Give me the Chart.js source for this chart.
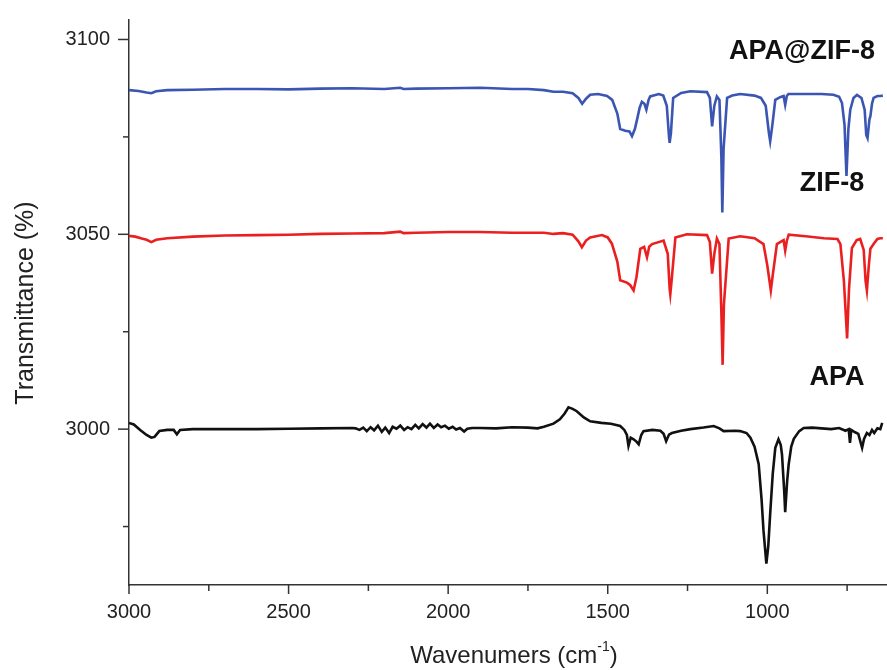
<!DOCTYPE html>
<html>
<head>
<meta charset="utf-8">
<script src="https://cdn.jsdelivr.net/npm/chart.js@4.4.1/dist/chart.umd.min.js"></script>
<style>
  html, body { margin: 0; padding: 0; background: #fff; }
  #wrap { width: 887px; height: 670px; position: relative; }
</style>
</head>
<body>
<div id="wrap"><canvas id="ftirChart"></canvas></div>
<script>
// Espectros FTIR (numero de onda en cm-1, transmitancia desplazada)
const wnAPAZIF = [3000, 2970, 2945, 2930, 2915, 2880, 2800, 2700, 2600, 2500, 2400, 2300, 2200, 2150, 2140, 2100, 2000, 1900, 1800, 1750, 1700, 1670, 1640, 1610, 1592, 1580, 1568, 1555, 1530, 1502, 1486, 1470, 1461, 1445, 1432, 1424, 1415, 1408, 1400, 1393, 1385, 1379, 1372, 1367, 1340, 1326, 1315, 1308, 1306, 1302, 1295, 1270, 1241, 1189, 1180, 1173, 1166, 1158, 1150, 1144, 1141, 1137, 1126, 1110, 1085, 1040, 1020, 1005, 995, 991, 985, 975, 960, 949, 944, 939, 934, 900, 876, 830, 793, 775, 766, 758, 752, 746, 740, 730, 719, 705, 695, 690, 686, 680, 677, 672, 667, 655, 646, 638];
const tAPAZIF = [3087.0, 3086.8, 3086.4, 3086.2, 3086.7, 3087.0, 3087.1, 3087.3, 3087.3, 3087.2, 3087.4, 3087.5, 3087.3, 3087.6, 3087.3, 3087.4, 3087.5, 3087.6, 3087.3, 3087.3, 3087.0, 3086.6, 3086.6, 3086.2, 3085.0, 3083.5, 3084.8, 3085.8, 3086.0, 3085.5, 3084.5, 3081.0, 3077.0, 3076.6, 3076.4, 3075.2, 3077.0, 3079.5, 3082.5, 3084.0, 3083.5, 3082.0, 3084.5, 3085.4, 3086.0, 3085.6, 3083.0, 3075.0, 3073.5, 3076.0, 3085.0, 3086.3, 3086.7, 3086.5, 3085.0, 3077.7, 3083.0, 3085.4, 3084.5, 3070.0, 3055.6, 3072.0, 3085.0, 3085.6, 3086.0, 3085.6, 3085.0, 3083.0, 3076.0, 3073.9, 3077.5, 3084.5, 3085.2, 3085.5, 3083.2, 3085.5, 3086.0, 3086.0, 3086.0, 3086.0, 3085.8, 3085.3, 3083.7, 3078.0, 3065.0, 3077.0, 3082.0, 3085.0, 3085.8, 3085.0, 3082.0, 3075.5, 3074.7, 3079.5, 3080.3, 3083.5, 3085.0, 3085.5, 3085.5, 3085.6];

const wnZIF = [3000, 2980, 2960, 2945, 2930, 2915, 2880, 2800, 2700, 2600, 2500, 2400, 2300, 2200, 2150, 2140, 2100, 2000, 1900, 1800, 1700, 1670, 1640, 1610, 1592, 1581, 1568, 1555, 1518, 1500, 1487, 1470, 1461, 1440, 1430, 1419, 1410, 1398, 1386, 1377, 1370, 1361, 1325, 1312, 1306, 1304, 1300, 1288, 1252, 1189, 1180, 1173, 1166, 1158, 1150, 1144, 1140, 1136, 1121, 1085, 1040, 1012, 1000, 989, 983, 970, 949, 944, 939, 933, 880, 823, 780, 771, 760, 750, 744, 735, 720, 709, 698, 692, 688, 682, 677, 667, 655, 646, 638];
const tZIF = [3049.6, 3049.4, 3048.9, 3048.6, 3048.0, 3048.6, 3049.0, 3049.4, 3049.7, 3049.8, 3049.9, 3050.1, 3050.2, 3050.3, 3050.7, 3050.3, 3050.4, 3050.6, 3050.6, 3050.4, 3050.4, 3050.1, 3050.3, 3049.9, 3048.2, 3046.7, 3048.4, 3049.2, 3049.8, 3049.2, 3047.6, 3043.0, 3038.2, 3037.6, 3037.0, 3035.6, 3039.0, 3046.3, 3046.8, 3044.1, 3046.8, 3047.5, 3048.4, 3045.0, 3036.0, 3034.6, 3038.0, 3049.2, 3050.0, 3049.8, 3048.0, 3039.9, 3045.0, 3048.9, 3047.5, 3030.0, 3016.5, 3032.0, 3048.9, 3049.5, 3049.0, 3047.5, 3042.0, 3035.6, 3039.5, 3047.5, 3048.5, 3045.8, 3048.3, 3049.9, 3049.5, 3049.0, 3048.8, 3047.5, 3038.0, 3023.3, 3036.0, 3046.5, 3048.5, 3048.8, 3046.0, 3038.0, 3035.6, 3042.0, 3046.3, 3047.5, 3048.8, 3049.0, 3049.0];

const wnAPA = [3000, 2985, 2965, 2945, 2930, 2920, 2905, 2880, 2860, 2850, 2840, 2800, 2700, 2600, 2500, 2400, 2300,
    2290, 2278, 2266, 2255, 2243, 2232, 2220, 2208, 2197, 2185, 2174, 2162, 2150, 2138, 2127, 2115, 2103, 2092, 2080, 2068, 2057, 2045, 2033, 2022, 2010, 1998, 1986, 1975, 1963, 1950, 1940, 1925,
    1900, 1850, 1800, 1750, 1720, 1700, 1670, 1650, 1635, 1623, 1610, 1597, 1575, 1555, 1520, 1490, 1470, 1461, 1448, 1440, 1435, 1428, 1419, 1410, 1403, 1395, 1388, 1360, 1335, 1325, 1317, 1308, 1299, 1270, 1241, 1200, 1168, 1150, 1137, 1100, 1085, 1065, 1053, 1040, 1027, 1018, 1012, 1003, 997, 991, 983, 975, 965, 958, 954, 947, 944, 938, 933, 925, 917, 900, 886, 860, 830, 800, 775, 755, 745, 741, 737, 725, 715, 703, 697, 688, 680, 672, 665, 655, 646, 640];
const tAPA = [3001.6, 3001.2, 2999.8, 2998.5, 2997.8, 2998.0, 2999.5, 2999.8, 2999.8, 2998.7, 2999.8, 3000.0, 3000.0, 3000.0, 3000.1, 3000.2, 3000.3,
    3000.2, 2999.8, 3000.4, 2999.5, 3000.5, 2999.7, 3000.9, 2999.3, 3000.4, 2999.0, 3000.6, 3000.1, 3000.9, 2999.8, 3000.5, 3000.0, 3001.1, 3000.2, 3001.3, 3000.4, 3001.4, 3000.3, 3001.2, 3000.5, 3000.9, 3000.1, 3000.6, 2999.9, 3000.3, 2999.4, 3000.1, 3000.3,
    3000.3, 3000.2, 3000.5, 3000.4, 3000.2, 3000.6, 3001.4, 3002.5, 3004.0, 3005.6, 3005.2, 3004.6, 3003.0, 3002.0, 3001.6, 3001.4, 3001.0, 3000.8, 2999.8, 2998.5, 2995.7, 2997.8, 2997.4, 2996.8, 2996.1, 2998.5, 2999.5, 2999.8, 2999.6, 2998.8, 2996.9, 2998.6, 2999.0, 2999.6, 3000.0, 3000.4, 3000.8, 3000.2, 2999.5, 2999.6, 2999.5, 2999.0, 2997.8, 2995.5, 2991.0, 2982.0, 2974.0, 2965.5, 2970.0, 2978.3, 2988.5, 2995.2, 2997.4, 2996.0, 2993.5, 2984.0, 2978.7, 2986.5, 2991.0, 2995.5, 2997.5, 2999.5, 3000.3, 3000.4, 3000.2, 3000.0, 3000.3, 2999.6, 3000.0, 2996.5, 2999.8, 2999.2, 2998.8, 2995.2, 2997.5, 2999.0, 2998.5, 2999.8, 2999.0, 3000.2, 3000.0, 3001.6];

// Ticks y etiquetas
const xTicks = [3000, 2750, 2500, 2250, 2000, 1750, 1500, 1250, 1000, 750];
const yTicks = [2975, 3000, 3025, 3050, 3075, 3100];
const seriesLabels = ['APA@ZIF-8', 'ZIF-8', 'APA'];

function toPoints(xs, ys) {
    return xs.map((x, i) => ({ x: x, y: ys[i] }));
}

const FONT = '"Liberation Sans", Arial, sans-serif';

// Marcas de ticks (mayores / menores) y textos de la figura
const decoPlugin = {
    id: 'deco',
    afterDraw(chart) {
        const ctx = chart.ctx;
        const xs = chart.scales.x;
        const ys = chart.scales.y;
        const area = chart.chartArea;
        ctx.save();
        ctx.strokeStyle = '#333';
        ctx.lineWidth = 1.5;
        xs.ticks.forEach(t => {
            const px = xs.getPixelForValue(t.value);
            const len = t.value % 500 === 0 ? 9 : 6;
            ctx.beginPath();
            ctx.moveTo(px, area.bottom);
            ctx.lineTo(px, area.bottom + len);
            ctx.stroke();
        });
        ys.ticks.forEach(t => {
            const py = ys.getPixelForValue(t.value);
            const len = t.value % 50 === 0 ? 11 : 6;
            ctx.beginPath();
            ctx.moveTo(area.left, py);
            ctx.lineTo(area.left - len, py);
            ctx.stroke();
        });

        // Etiquetas de las curvas
        ctx.fillStyle = '#111';
        ctx.font = 'bold 27px ' + FONT;
        ctx.textAlign = 'center';
        ctx.textBaseline = 'middle';
        ctx.fillText(seriesLabels[0], 802, 52);
        ctx.fillText(seriesLabels[1], 832, 184);
        ctx.fillText(seriesLabels[2], 837, 378);

        // Titulos de los ejes
        ctx.fillStyle = '#222';
        ctx.font = '24px ' + FONT;
        const base = 'Wavenumers (cm';
        const wBase = ctx.measureText(base).width;
        ctx.font = '14px ' + FONT;
        const wSup = ctx.measureText('-1').width;
        ctx.font = '24px ' + FONT;
        const wEnd = ctx.measureText(')').width;
        let x0 = 514 - (wBase + wSup + wEnd) / 2;
        ctx.textAlign = 'left';
        ctx.fillText(base, x0, 656);
        ctx.font = '14px ' + FONT;
        ctx.fillText('-1', x0 + wBase, 647);
        ctx.font = '24px ' + FONT;
        ctx.fillText(')', x0 + wBase + wSup, 656);

        ctx.translate(26, 303);
        ctx.rotate(-Math.PI / 2);
        ctx.textAlign = 'center';
        ctx.font = '25px ' + FONT;
        ctx.fillText('Transmittance (%)', 0, 0);
        ctx.restore();
    }
};

const ctxFtir = document.getElementById('ftirChart').getContext('2d');
const ftirChart = new Chart(ctxFtir, {
    type: 'line',
    data: {
        datasets: [
            { label: seriesLabels[0], data: toPoints(wnAPAZIF, tAPAZIF), borderColor: '#3b55b3', borderWidth: 2.6 },
            { label: seriesLabels[1], data: toPoints(wnZIF, tZIF), borderColor: '#ea2020', borderWidth: 2.6 },
            { label: seriesLabels[2], data: toPoints(wnAPA, tAPA), borderColor: '#111111', borderWidth: 2.6 }
        ]
    },
    options: {
        responsive: true,
        maintainAspectRatio: false,
        animation: false,
        layout: { padding: { top: 15, right: 0, left: 0, bottom: 0 } },
        elements: { point: { radius: 0 }, line: { tension: 0, fill: false } },
        plugins: { legend: { display: false }, tooltip: { enabled: false } },
        scales: {
            x: {
                type: 'linear',
                reverse: true,
                min: 625,
                max: 3000,
                afterBuildTicks: s => { s.ticks = xTicks.map(v => ({ value: v })); },
                afterFit: s => { s.height = 85; },
                grid: { display: false, drawTicks: true, tickLength: 9 },
                border: { display: true, color: '#333', width: 1.5 },
                ticks: {
                    padding: 6,
                    maxRotation: 0,
                    autoSkip: false,
                    color: '#222',
                    font: { family: FONT, size: 20 },
                    callback: v => (v % 500 === 0 ? String(v) : '')
                }
            },
            y: {
                min: 2960,
                max: 3105,
                afterBuildTicks: s => { s.ticks = yTicks.map(v => ({ value: v })); },
                afterFit: s => { s.width = 129; },
                grid: { display: false, drawTicks: true, tickLength: 11 },
                border: { display: true, color: '#333', width: 1.5 },
                ticks: {
                    padding: 8,
                    autoSkip: false,
                    color: '#222',
                    font: { family: FONT, size: 20 },
                    callback: v => (v % 50 === 0 ? String(v) : '')
                }
            }
        }
    },
    plugins: [decoPlugin]
});
</script>
</body>
</html>
